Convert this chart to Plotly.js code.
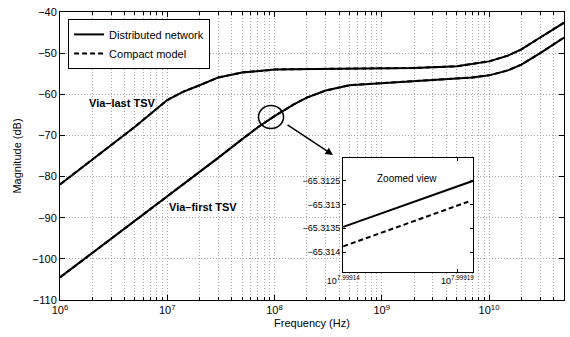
<!DOCTYPE html>
<html>
<head>
<meta charset="utf-8">
<script src="https://cdn.plot.ly/plotly-3.0.1.min.js"></script>
<style>html,body{margin:0;padding:0;background:#fff;}#chart{width:570px;height:337px;}</style>
</head>
<body>
<div id="chart"></div>
<script>
// Frequencies (Hz)
const freq = [1e6, 2e6, 5e6, 1e7, 1.4e7, 2e7, 3e7, 5e7, 7e7, 1e8, 1.5e8, 2e8, 3e8, 5e8, 1e9, 2e9, 5e9, 7e9, 1e10, 1.5e10, 2e10, 3e10, 5e10];
// Via-last TSV magnitude (dB), distributed network
const viaLast = [-81.9, -75.9, -67.9, -61.4, -59.4, -57.8, -55.9, -54.7, -54.3, -54.0, -53.9, -53.85, -53.8, -53.75, -53.7, -53.6, -53.2, -52.7, -52.0, -50.6, -49.1, -46.2, -42.6];
// Via-first TSV magnitude (dB), distributed network
const viaFirst = [-104.5, -98.6, -90.7, -84.8, -81.9, -78.8, -75.4, -70.9, -68.0, -65.3, -62.5, -60.8, -59.1, -57.8, -57.3, -56.9, -56.3, -55.9, -55.4, -54.2, -52.8, -50.0, -46.2];
// Compact model (indistinguishable from distributed network at this scale)
const viaLastCompact = viaLast.slice();
const viaFirstCompact = viaFirst.slice();

// Zoomed view (inset)
const zoomFreq = [9.98022e7, 9.98153e7];
const zoomFreqDashed = [9.98022e7, 9.98148e7];
const zoomDistributed = [-65.31347, -65.3125];
const zoomCompact = [-65.31388, -65.31294];
const zoomYTicks = [-65.3125, -65.313, -65.3135, -65.314];
const zoomYTickText = ['\u221265.3125', '\u221265.313', '\u221265.3135', '\u221265.314'];
const zoomXTicks = [9.98022e7, 9.98137e7];
const zoomXTickText = ['10<sup>7.99914</sup>', '10<sup>7.99919</sup>'];

// Main axis ticks
const xTicks = [1e6, 1e7, 1e8, 1e9, 1e10];
const xTickText = ['10<sup>6</sup>', '10<sup>7</sup>', '10<sup>8</sup>', '10<sup>9</sup>', '10<sup>10</sup>'];
const minorX = [];
for (let e = 6; e <= 10; e++) for (let m = 2; m <= 9; m++) { const v = m * Math.pow(10, e); if (v <= 5e10) minorX.push(v); }

const FONT = 'Liberation Sans, Arial, Helvetica, sans-serif';
const solid = {color: '#000', width: 2};
const dashed = {color: '#000', width: 2, dash: '5px,3px'};
const GRID = '#a8a8a8';

const traces = [
  {x: freq, y: viaLast, type: 'scatter', mode: 'lines', line: solid, name: 'Distributed network', showlegend: true},
  {x: freq, y: viaFirst, type: 'scatter', mode: 'lines', line: solid, name: 'Distributed network', showlegend: false},
  {x: freq, y: viaLastCompact, type: 'scatter', mode: 'lines', line: dashed, name: 'Compact model', showlegend: true},
  {x: freq, y: viaFirstCompact, type: 'scatter', mode: 'lines', line: dashed, name: 'Compact model', showlegend: false},
  {x: zoomFreq, y: zoomDistributed, xaxis: 'x2', yaxis: 'y2', type: 'scatter', mode: 'lines', line: solid, showlegend: false},
  {x: zoomFreqDashed, y: zoomCompact, xaxis: 'x2', yaxis: 'y2', type: 'scatter', mode: 'lines', line: dashed, showlegend: false}
];

const layout = {
  width: 570, height: 337,
  margin: {l: 60, r: 6, t: 12, b: 37},
  paper_bgcolor: '#fff', plot_bgcolor: '#fff',
  font: {family: FONT, size: 11, color: '#000'},
  showlegend: true,
  legend: {x: 0.016, y: 0.976, xanchor: 'left', yanchor: 'top', bgcolor: '#fff', bordercolor: '#000', borderwidth: 1, font: {size: 11, family: FONT}, tracegroupgap: 0},
  xaxis: {
    type: 'log', range: [6, Math.log10(5e10)],
    tickvals: xTicks, ticktext: xTickText,
    ticks: 'inside', ticklen: 5, tickcolor: '#000', mirror: 'ticks',
    showline: true, linecolor: '#000', linewidth: 1,
    showgrid: true, gridcolor: GRID, griddash: '1px,2px', gridwidth: 1,
    minor: {tickvals: minorX, ticks: 'inside', ticklen: 3, tickcolor: '#000', showgrid: true, gridcolor: GRID, griddash: '1px,2px', gridwidth: 1},
    zeroline: false,
    tickfont: {size: 11},
    title: {text: 'Frequency (Hz)', font: {size: 11}, standoff: 4}
  },
  yaxis: {
    range: [-110, -40], dtick: 10, tick0: -110,
    ticks: 'inside', ticklen: 5, tickcolor: '#000', mirror: 'ticks',
    showline: true, linecolor: '#000', linewidth: 1,
    showgrid: true, gridcolor: GRID, griddash: '1px,2px', gridwidth: 1,
    zeroline: false,
    tickfont: {size: 11},
    title: {text: 'Magnitude (dB)', font: {size: 11}, standoff: 8}
  },
  xaxis2: {
    type: 'log', domain: [0.5615, 0.8194], anchor: 'y2',
    range: [7.99914, 7.999197],
    tickvals: zoomXTicks, ticktext: zoomXTickText,
    ticks: 'inside', ticklen: 3, tickcolor: '#000', mirror: 'ticks',
    showline: true, linecolor: '#000', linewidth: 1,
    showgrid: false, zeroline: false,
    tickfont: {size: 9}
  },
  yaxis2: {
    domain: [0.0972, 0.4931], anchor: 'x2',
    range: [-65.31442, -65.31202],
    tickvals: zoomYTicks, ticktext: zoomYTickText,
    ticks: 'inside', ticklen: 3, tickcolor: '#000', mirror: 'ticks',
    showline: true, linecolor: '#000', linewidth: 1,
    showgrid: false, zeroline: false,
    tickfont: {size: 9}
  },
  shapes: [
    {type: 'circle', xref: 'paper', yref: 'paper',
     x0: 0.3938, x1: 0.4435, y0: 0.5955, y1: 0.6753,
     line: {color: '#000', width: 1.5}}
  ],
  annotations: [
    {x: Math.log10(3.8e6), y: -62.1, xref: 'x', yref: 'y', text: '<b>Via\u2013last TSV</b>', showarrow: false, font: {size: 11, family: FONT}},
    {x: Math.log10(2.17e7), y: -87.4, xref: 'x', yref: 'y', text: '<b>Via\u2013first TSV</b>', showarrow: false, font: {size: 11, family: FONT}},
    {x: 0.5417, y: 0.5035, xref: 'paper', yref: 'paper', text: '', showarrow: true, arrowhead: 2, arrowsize: 1, arrowwidth: 1.5, arrowcolor: '#000', ax: -47, ay: -31, standoff: 0},
    {x: 0.625, y: 0.4236, xref: 'paper', yref: 'paper', xanchor: 'left', yanchor: 'middle', text: 'Zoomed view', showarrow: false, font: {size: 10, family: FONT}}
  ]
};

Plotly.newPlot('chart', traces, layout, {staticPlot: true, displayModeBar: false});
</script>
</body>
</html>
